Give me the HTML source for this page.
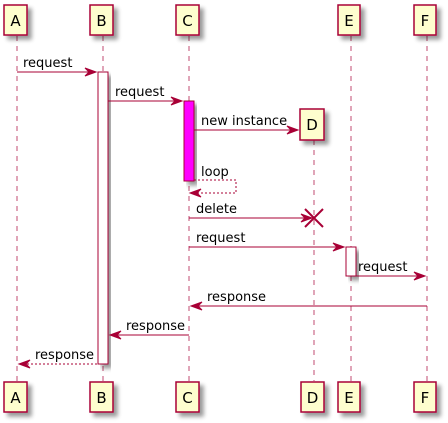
<!DOCTYPE html>
<html><head><meta charset="utf-8"><style>
html,body{margin:0;padding:0;background:#fff;}
svg{display:block;}
text{font-family:"DejaVu Sans","Liberation Sans",sans-serif;font-size:13px;fill:#000;}
text.hd{font-size:15px;}
.ll{stroke:#A80036;stroke-width:1;stroke-dasharray:5,5;opacity:.7}
.m{stroke:#A80036;stroke-width:1;fill:none}
.d{stroke:#A80036;stroke-width:1;fill:none;stroke-dasharray:2,2}
.box{fill:#FEFECE;stroke:#A80036;stroke-width:1.5}
.ah{fill:#A80036;stroke:#A80036}
</style></head><body>
<svg width="448" height="423" viewBox="0 0 448 423" xmlns="http://www.w3.org/2000/svg">
<defs><filter id="sh" x="-20%" y="-20%" width="150%" height="150%"><feGaussianBlur in="SourceAlpha" stdDeviation="2"/><feOffset dx="4" dy="4"/><feComponentTransfer><feFuncA type="linear" slope="0.4"/></feComponentTransfer><feMerge><feMergeNode/><feMergeNode in="SourceGraphic"/></feMerge></filter></defs>
<line class="ll" x1="17" y1="36" x2="17" y2="381"/>
<line class="ll" x1="103" y1="36" x2="103" y2="381"/>
<line class="ll" x1="189" y1="36" x2="189" y2="381"/>
<line class="ll" x1="314" y1="140" x2="314" y2="381"/>
<line class="ll" x1="351" y1="36" x2="351" y2="381"/>
<line class="ll" x1="427" y1="36" x2="427" y2="381"/>
<rect x="98" y="72" width="10" height="292" fill="#fff" stroke="#A80036" filter="url(#sh)"/>
<rect x="184" y="101" width="10" height="80" fill="#FF00FF" stroke="#A80036" filter="url(#sh)"/>
<rect x="346" y="247" width="10" height="29" fill="#fff" stroke="#A80036" filter="url(#sh)"/>
<g filter="url(#sh)">
<rect class="box" x="4" y="5" width="23" height="30"/>
<rect class="box" x="90" y="5" width="23" height="30"/>
<rect class="box" x="176" y="5" width="23" height="30"/>
<rect class="box" x="338" y="5" width="22" height="30"/>
<rect class="box" x="414" y="5" width="22" height="30"/>
<rect class="box" x="300" y="109" width="24" height="31"/>
<rect class="box" x="4" y="382" width="23" height="30"/>
<rect class="box" x="90" y="382" width="23" height="30"/>
<rect class="box" x="176" y="382" width="23" height="30"/>
<rect class="box" x="301" y="382" width="23" height="30"/>
<rect class="box" x="338" y="382" width="22" height="30"/>
<rect class="box" x="414" y="382" width="22" height="30"/>
</g>
<g text-anchor="middle">
<text class="hd" x="15.5" y="26">A</text><text class="hd" x="101.5" y="26">B</text><text class="hd" x="187.5" y="26">C</text>
<text class="hd" x="349" y="26">E</text><text class="hd" x="425" y="26">F</text><text class="hd" x="312" y="130">D</text>
<text class="hd" x="15.5" y="403">A</text><text class="hd" x="101.5" y="403">B</text><text class="hd" x="187.5" y="403">C</text>
<text class="hd" x="312.5" y="403">D</text><text class="hd" x="349" y="403">E</text><text class="hd" x="425" y="403">F</text>
</g>
<line class="m" x1="17" y1="72" x2="96" y2="72"/><polygon class="ah" points="96,72 85,68 89,72 85,76"/>
<text x="23" y="67">request</text>
<line class="m" x1="108" y1="101" x2="182" y2="101"/><polygon class="ah" points="182,101 171,97 175,101 171,105"/>
<text x="115" y="96">request</text>
<line class="m" x1="194" y1="130" x2="298" y2="130"/><polygon class="ah" points="298,130 287,126 291,130 287,134"/>
<text x="201" y="125">new instance</text>
<polyline class="d" points="194,180 236,180 236,193 191,193"/><polygon class="ah" points="190,193 201,189 197,193 201,197"/>
<text x="201" y="176">loop</text>
<line class="m" x1="189" y1="218" x2="312" y2="218"/><polygon class="ah" points="312,218 301,214 305,218 301,222"/>
<path d="M305,209 L323,227 M323,209 L305,227" stroke="#A80036" stroke-width="2"/>
<text x="196" y="213">delete</text>
<line class="m" x1="189" y1="247" x2="344" y2="247"/><polygon class="ah" points="344,247 333,243 337,247 333,251"/>
<text x="196" y="242">request</text>
<line class="m" x1="356" y1="276" x2="425" y2="276"/><polygon class="ah" points="425,276 414,272 418,276 414,280"/>
<text x="358" y="271">request</text>
<line class="m" x1="191" y1="306" x2="427" y2="306"/><polygon class="ah" points="191,306 202,302 198,306 202,310"/>
<text x="207" y="301">response</text>
<line class="m" x1="110" y1="335" x2="189" y2="335"/><polygon class="ah" points="110,335 121,331 117,335 121,339"/>
<text x="126" y="330">response</text>
<line class="d" x1="19" y1="364" x2="98" y2="364"/><polygon class="ah" points="19,364 30,360 26,364 30,368"/>
<text x="35" y="359">response</text>
</svg>
</body></html>
